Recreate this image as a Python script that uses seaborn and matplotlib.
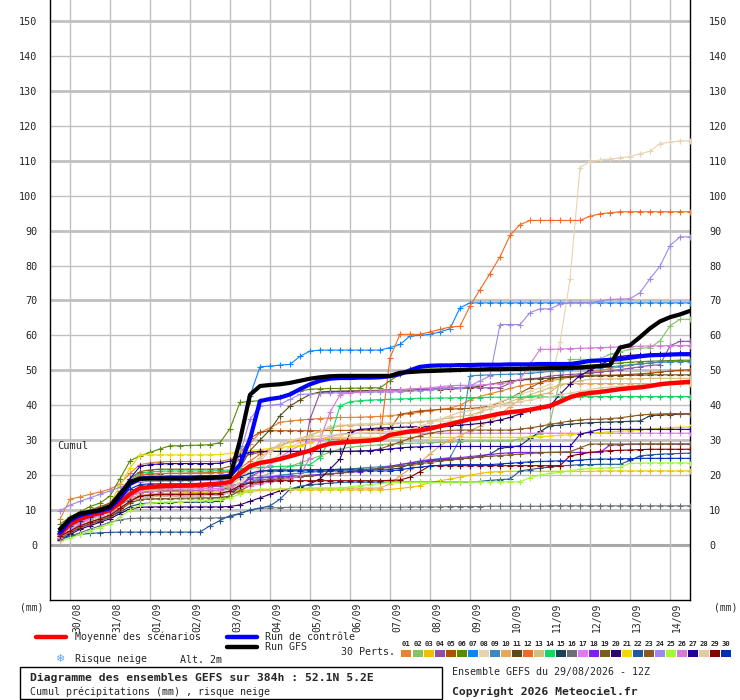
import matplotlib
matplotlib.use("Agg")
import matplotlib.pyplot as plt
from matplotlib.patches import Rectangle
from matplotlib.lines import Line2D
from matplotlib.transforms import ScaledTranslation
import seaborn as sns
import pandas as pd

sns.set_style("white")
plt.rcParams['font.family'] = ['DejaVu Sans Mono', 'DejaVu Sans']

# ---------------- data (cumulative precipitation, mm, every 6 h from +6h to +384h)
hours = list(range(6, 385, 6))
date_labels = ['30/08', '31/08', '01/09', '02/09', '03/09', '04/09', '05/09', '06/09',
               '07/09', '08/09', '09/09', '10/09', '11/09', '12/09', '13/09', '14/09']
date_hours = [12, 36, 60, 84, 108, 132, 156, 180, 204, 228, 252, 276, 300, 324, 348, 372]
y_ticks = [0, 10, 20, 30, 40, 50, 60, 70, 80, 90, 100, 110, 120, 130, 140, 150]

member_colors = ['#E8822E', '#86C26C', '#F0C000', '#8E4FA8', '#B04E0C', '#5A8A00', '#0A84FF',
                 '#E8D4B0', '#3A8ABE', '#E8A858', '#5E4A18', '#F86820', '#D4C07C', '#10D860',
                 '#204058', '#687078', '#E078F8', '#8020F0', '#7A5A28', '#300070', '#F0D800',
                 '#205898', '#8A5820', '#A088E8', '#A0F838', '#D878D8', '#2000A0', '#E0CCA0',
                 '#880000', '#0030B8']

m01 = [7.4, 13.1, 13.8, 14.5, 15.2, 16.0, 17.5, 20.5, 23.0, 23.5, 23.8, 23.9, 23.9, 23.9, 23.9, 23.9,
       23.9, 24.5, 26.0, 29.0, 32.2, 33.5, 35.1, 35.5, 35.8, 36.0, 36.2, 36.4, 36.5, 36.5, 36.6, 36.7,
       36.8, 37.0, 37.3, 37.6, 38.0, 38.4, 38.8, 39.2, 40.0, 41.5, 42.5, 43.3, 44.0, 44.8, 45.6, 46.0,
       46.5, 47.0, 47.5, 48.0, 48.8, 49.5, 50.0, 50.5, 51.0, 51.4, 51.8, 52.1, 52.3, 52.5, 52.6, 52.6]
m02 = [2.0, 3.5, 5.0, 6.0, 7.0, 8.0, 10.0, 12.0, 13.0, 13.1, 13.1, 13.1, 13.2, 13.2, 13.2, 13.3,
       13.4, 14.0, 16.0, 18.0, 19.5, 20.5, 21.5, 22.5, 23.5, 24.5, 25.5, 26.5, 27.5, 28.0, 28.3, 28.5,
       28.7, 28.9, 29.0, 29.1, 29.2, 29.3, 29.4, 29.5, 29.6, 29.7, 29.8, 29.8, 29.8, 29.8, 30.4, 31.0,
       31.7, 35.0, 47.4, 53.1, 53.1, 53.1, 53.3, 54.6, 55.3, 56.0, 56.3, 56.5, 58.4, 62.7, 64.6, 64.6]
m03 = [2.5, 4.0, 5.5, 6.5, 7.5, 8.5, 10.5, 12.5, 14.0, 14.5, 14.7, 14.8, 14.9, 15.0, 15.0, 15.1,
       15.2, 15.4, 15.6, 15.7, 15.8, 15.8, 15.8, 15.8, 15.8, 15.8, 15.8, 15.8, 15.8, 15.8, 15.8, 15.8,
       15.8, 15.9, 16.2, 16.5, 17.0, 17.9, 18.4, 18.9, 19.4, 20.0, 20.5, 20.9, 21.0, 21.1, 21.1, 21.1,
       21.1, 21.1, 21.1, 21.1, 21.1, 21.1, 21.2, 21.2, 21.2, 21.2, 21.2, 21.2, 21.2, 21.2, 21.2, 21.2]
m04 = [3.0, 5.0, 7.0, 8.0, 9.0, 10.0, 12.5, 15.0, 16.0, 16.2, 16.3, 16.4, 16.5, 16.5, 16.6, 16.7,
       16.8, 17.0, 17.5, 18.0, 18.5, 19.0, 19.3, 19.6, 19.8, 36.0, 43.6, 43.8, 44.0, 44.0, 44.1, 44.2,
       44.3, 44.4, 44.5, 44.6, 44.7, 44.8, 44.9, 45.0, 45.0, 45.0, 45.0, 45.0, 45.0, 46.3, 47.4, 47.6,
       47.8, 48.4, 48.6, 48.8, 49.0, 49.2, 49.5, 49.8, 50.2, 50.6, 51.0, 51.4, 51.6, 57.0, 58.3, 58.3]
m05 = [5.0, 7.0, 9.0, 10.0, 11.0, 12.0, 15.0, 18.0, 20.0, 20.3, 20.4, 20.5, 20.5, 20.6, 20.6, 20.7,
       20.8, 21.0, 26.0, 30.5, 32.3, 32.7, 32.7, 32.7, 32.7, 32.7, 32.7, 32.8, 32.8, 32.8, 32.9, 32.9,
       33.0, 33.2, 37.4, 37.9, 38.4, 38.6, 38.8, 38.9, 39.0, 39.1, 39.3, 39.8, 40.8, 42.0, 43.5, 45.0,
       46.5, 47.5, 48.0, 48.3, 48.5, 48.6, 48.6, 48.6, 48.7, 48.8, 49.0, 49.2, 49.5, 49.8, 50.0, 50.2]
m06 = [6.0, 8.0, 9.5, 11.0, 12.0, 14.0, 19.0, 24.1, 25.5, 26.5, 27.5, 28.4, 28.4, 28.5, 28.6, 28.7,
       29.3, 33.3, 40.8, 41.1, 41.3, 41.8, 42.5, 43.2, 44.0, 44.6, 44.7, 44.8, 44.8, 44.9, 44.9, 45.0,
       45.0, 47.0, 48.9, 50.3, 50.3, 50.4, 50.4, 50.5, 50.5, 50.6, 50.6, 50.7, 50.7, 50.8, 50.8, 50.9,
       51.0, 51.1, 51.2, 51.3, 51.4, 51.5, 51.7, 51.9, 52.1, 52.3, 52.5, 52.6, 52.7, 52.8, 52.9, 52.9]
m07 = [4.0, 6.5, 8.5, 9.5, 10.5, 12.0, 15.0, 17.5, 18.5, 18.8, 18.8, 18.8, 18.9, 18.9, 18.9, 19.0,
       19.0, 19.5, 28.4, 42.7, 51.0, 51.2, 51.5, 51.7, 54.0, 55.5, 55.8, 55.8, 55.8, 55.8, 55.8, 55.8,
       55.8, 56.5, 57.4, 59.8, 60.0, 60.3, 61.0, 61.9, 67.9, 69.3, 69.3, 69.3, 69.3, 69.3, 69.3, 69.3,
       69.3, 69.3, 69.3, 69.3, 69.3, 69.3, 69.3, 69.3, 69.3, 69.3, 69.3, 69.3, 69.3, 69.3, 69.3, 69.3]
m08 = [2.0, 4.0, 6.0, 8.0, 9.0, 10.0, 12.0, 14.0, 15.0, 15.3, 15.5, 15.5, 15.5, 15.5, 15.6, 15.6,
       15.7, 16.0, 18.0, 20.0, 22.0, 24.0, 26.0, 28.0, 29.4, 31.0, 32.5, 34.0, 34.3, 34.5, 34.7, 34.8,
       34.9, 35.0, 35.0, 35.1, 35.2, 35.3, 35.4, 35.5, 35.7, 36.0, 38.0, 40.0, 41.0, 42.0, 43.1, 44.0,
       45.0, 46.0, 58.0, 76.0, 108.0, 109.8, 110.2, 110.5, 110.8, 111.2, 112.0, 112.7, 114.9, 115.3, 115.7, 115.7]
m09 = [3.0, 5.0, 6.5, 7.5, 8.5, 9.5, 11.5, 13.0, 14.0, 14.2, 14.3, 14.3, 14.4, 14.4, 14.5, 14.5,
       14.6, 15.0, 16.5, 18.0, 19.0, 19.5, 20.0, 20.3, 20.6, 20.8, 21.0, 21.2, 21.5, 21.8, 22.0, 22.2,
       22.4, 22.6, 23.0, 23.5, 24.0, 24.4, 24.7, 25.0, 30.3, 48.4, 48.6, 48.7, 48.8, 48.9, 49.0, 49.2,
       49.4, 49.7, 49.9, 50.1, 50.3, 50.5, 50.8, 51.0, 51.3, 51.6, 51.9, 52.1, 52.3, 52.4, 52.5, 52.5]
m10 = [3.5, 5.5, 7.0, 8.0, 9.0, 10.0, 12.0, 13.5, 14.3, 14.5, 14.6, 14.6, 14.6, 14.6, 14.6, 14.7,
       14.7, 14.8, 15.0, 15.3, 15.6, 15.8, 16.0, 16.1, 16.2, 16.3, 16.3, 16.3, 16.3, 16.3, 16.3, 16.3,
       16.3, 17.5, 19.8, 21.8, 23.7, 26.0, 28.4, 30.0, 31.2, 32.7, 34.0, 35.5, 37.5, 39.5, 41.7, 42.5,
       43.0, 43.6, 46.0, 46.2, 46.2, 46.2, 46.2, 46.2, 46.2, 46.2, 46.2, 46.2, 46.2, 46.2, 46.2, 46.2]
m11 = [3.0, 5.0, 7.0, 8.0, 9.0, 10.0, 12.0, 14.0, 15.0, 15.3, 15.4, 15.5, 15.5, 15.5, 15.6, 15.6,
       15.7, 16.5, 22.0, 27.0, 30.0, 33.0, 37.0, 39.8, 41.5, 43.1, 43.8, 44.0, 44.0, 44.1, 44.1, 44.2,
       44.2, 44.3, 44.3, 44.4, 44.4, 44.5, 44.5, 44.6, 44.8, 45.0, 45.5, 46.0, 46.5, 47.0, 47.2, 47.4,
       47.6, 47.8, 48.0, 48.1, 48.2, 48.3, 48.4, 48.5, 48.5, 48.6, 48.6, 48.7, 48.7, 48.7, 48.7, 48.7]
m12 = [3.0, 5.0, 7.0, 8.5, 10.0, 12.0, 15.0, 18.0, 20.0, 20.5, 20.5, 20.5, 20.5, 20.5, 20.5, 20.6,
       20.7, 21.0, 22.0, 24.0, 26.0, 27.5, 28.5, 29.5, 30.0, 30.3, 30.3, 30.3, 30.3, 30.3, 30.3, 30.3,
       30.3, 53.6, 60.3, 60.3, 60.3, 61.0, 61.7, 62.4, 62.6, 68.4, 73.1, 77.7, 82.5, 88.6, 91.7, 92.9,
       92.9, 92.9, 92.9, 92.9, 92.9, 94.1, 94.8, 95.1, 95.4, 95.4, 95.4, 95.4, 95.4, 95.4, 95.4, 95.4]
m13 = [2.5, 4.5, 6.0, 7.0, 8.0, 9.0, 11.5, 14.0, 15.5, 15.8, 16.0, 16.0, 16.0, 16.1, 16.1, 16.2,
       16.3, 17.0, 19.0, 22.0, 25.0, 27.0, 28.5, 29.4, 30.5, 31.5, 32.5, 33.5, 34.0, 34.2, 34.3, 34.4,
       34.5, 34.6, 34.8, 35.0, 35.3, 35.6, 36.0, 36.4, 36.8, 37.2, 38.0, 39.0, 40.0, 41.0, 42.0, 43.0,
       44.0, 45.0, 45.8, 46.4, 47.0, 47.4, 47.5, 47.5, 47.6, 47.6, 47.6, 47.7, 47.7, 47.7, 47.7, 47.7]
m14 = [4.0, 6.0, 8.0, 9.0, 10.0, 11.0, 14.5, 18.5, 20.5, 21.0, 21.1, 21.2, 21.2, 21.2, 21.2, 21.2,
       21.3, 21.5, 21.8, 22.0, 22.2, 22.4, 22.5, 22.6, 22.8, 23.0, 25.0, 30.3, 39.8, 41.0, 41.3, 41.5,
       41.6, 41.7, 41.8, 41.9, 42.0, 42.0, 42.1, 42.1, 42.2, 42.2, 42.2, 42.3, 42.3, 42.3, 42.3, 42.4,
       42.4, 42.4, 42.4, 42.4, 42.5, 42.5, 42.5, 42.5, 42.5, 42.5, 42.5, 42.5, 42.5, 42.5, 42.5, 42.5]
m15 = [2.0, 3.5, 5.0, 6.0, 7.0, 8.0, 9.5, 11.0, 11.8, 12.0, 12.1, 12.1, 12.2, 12.2, 12.3, 12.4,
       12.5, 14.0, 17.0, 19.5, 21.0, 21.5, 21.5, 21.5, 21.5, 21.6, 21.6, 21.6, 21.7, 21.7, 21.7, 21.7,
       21.7, 21.7, 22.0, 23.1, 23.6, 24.0, 24.4, 24.6, 24.7, 24.8, 25.4, 26.0, 27.7, 28.0, 28.4, 30.5,
       32.5, 34.1, 34.3, 34.6, 34.8, 35.0, 35.1, 35.2, 35.3, 35.4, 35.5, 37.0, 37.2, 37.3, 37.4, 37.5]
m16 = [1.5, 2.5, 3.5, 4.5, 5.5, 6.5, 7.2, 7.6, 7.7, 7.7, 7.7, 7.7, 7.7, 7.7, 7.7, 7.7,
       7.8, 8.0, 9.0, 10.0, 10.5, 10.6, 10.7, 10.8, 10.8, 10.8, 10.8, 10.8, 10.8, 10.8, 10.8, 10.8,
       10.8, 10.8, 10.8, 10.9, 10.9, 10.9, 10.9, 11.0, 11.0, 11.0, 11.0, 11.1, 11.1, 11.1, 11.1, 11.1,
       11.1, 11.2, 11.2, 11.2, 11.2, 11.2, 11.2, 11.2, 11.2, 11.2, 11.2, 11.2, 11.2, 11.2, 11.2, 11.2]
m17 = [3.0, 5.0, 6.5, 7.5, 8.5, 9.5, 12.0, 14.5, 15.8, 16.0, 16.0, 16.0, 16.0, 16.0, 16.1, 16.1,
       16.2, 16.5, 17.5, 19.0, 21.0, 23.0, 25.0, 27.0, 28.5, 29.5, 30.3, 31.0, 31.7, 32.0, 32.0, 32.0,
       32.0, 32.0, 32.0, 32.0, 32.0, 32.0, 32.0, 32.0, 32.0, 32.0, 32.0, 32.0, 32.0, 32.0, 32.0, 32.0,
       32.0, 32.0, 32.0, 32.0, 32.0, 32.0, 32.0, 32.0, 32.0, 32.0, 32.0, 32.0, 32.0, 32.0, 32.0, 32.0]
m18 = [2.5, 4.0, 5.5, 6.5, 7.5, 8.5, 10.5, 12.5, 13.5, 13.8, 14.0, 14.0, 14.0, 14.1, 14.1, 14.2,
       14.3, 15.0, 17.0, 19.0, 19.4, 19.5, 19.6, 19.7, 19.8, 20.0, 20.2, 20.4, 20.6, 20.8, 21.0, 21.5,
       22.0, 22.5, 23.0, 23.5, 24.0, 24.4, 24.6, 24.8, 25.0, 25.3, 25.6, 25.9, 26.2, 26.4, 26.5, 26.5,
       26.5, 26.5, 26.5, 26.5, 26.5, 26.5, 26.5, 28.6, 28.7, 28.8, 28.9, 28.9, 28.9, 28.9, 28.9, 28.9]
m19 = [2.0, 3.5, 5.0, 6.0, 7.0, 8.0, 10.0, 12.0, 13.0, 13.2, 13.3, 13.3, 13.4, 13.4, 13.5, 13.5,
       13.6, 14.0, 15.5, 17.0, 18.0, 18.5, 19.0, 19.3, 19.5, 19.7, 20.0, 20.3, 20.6, 21.0, 21.3, 21.6,
       22.0, 22.3, 22.6, 23.0, 23.3, 23.6, 24.0, 24.3, 24.6, 25.0, 25.2, 25.4, 25.6, 25.8, 26.0, 26.2,
       26.4, 26.5, 26.6, 26.7, 27.8, 28.9, 28.9, 28.9, 28.9, 28.9, 28.9, 28.9, 28.9, 28.9, 28.9, 28.9]
m20 = [1.5, 3.0, 4.5, 5.5, 6.5, 7.5, 9.0, 10.3, 10.8, 10.9, 10.9, 10.9, 10.9, 10.9, 10.9, 10.9,
       10.9, 11.0, 11.5, 12.5, 13.5, 14.5, 15.5, 16.0, 16.5, 17.5, 18.9, 21.7, 24.6, 32.2, 33.1, 33.3,
       33.5, 33.6, 33.7, 33.8, 33.9, 34.0, 34.1, 34.2, 34.3, 34.5, 34.8, 35.2, 35.8, 36.5, 37.5, 38.5,
       39.4, 39.8, 43.1, 46.0, 48.5, 50.0, 51.5, 53.0, 54.0, 54.3, 54.5, 54.6, 54.7, 54.8, 54.9, 55.0]
m21 = [3.5, 6.0, 8.0, 9.0, 10.0, 12.0, 17.0, 22.0, 25.8, 25.8, 25.8, 25.8, 25.8, 25.8, 25.8, 25.8,
       25.9, 26.2, 26.7, 27.0, 27.3, 27.6, 27.9, 28.2, 28.4, 29.2, 30.0, 30.8, 30.8, 30.8, 30.8, 30.8,
       30.8, 30.8, 30.8, 30.8, 30.8, 30.8, 30.8, 30.8, 30.8, 30.8, 30.8, 30.8, 30.8, 30.8, 30.8, 30.9,
       31.0, 31.2, 31.4, 31.6, 31.8, 32.0, 32.2, 32.4, 32.6, 32.7, 33.0, 33.2, 33.4, 33.6, 33.7, 33.8]
m22 = [1.7, 2.5, 3.0, 3.3, 3.5, 3.6, 3.7, 3.7, 3.7, 3.7, 3.7, 3.7, 3.7, 3.7, 3.7, 5.5,
       7.0, 8.4, 9.0, 10.0, 10.6, 11.2, 13.1, 16.0, 16.8, 17.2, 17.5, 17.7, 17.9, 18.0, 18.0, 18.0,
       18.0, 18.0, 18.0, 18.0, 18.0, 18.0, 18.0, 18.0, 18.0, 18.0, 18.2, 18.5, 18.7, 18.9, 21.2, 21.6,
       22.0, 22.3, 22.6, 22.8, 23.0, 23.0, 23.1, 23.1, 23.1, 24.2, 25.5, 25.8, 26.0, 26.1, 26.2, 26.3]
m23 = [4.0, 6.5, 8.5, 9.5, 10.5, 12.0, 15.5, 19.0, 21.0, 21.5, 21.7, 21.7, 21.7, 21.7, 21.7, 21.7,
       21.8, 22.5, 24.5, 26.0, 26.5, 26.8, 26.8, 26.8, 26.8, 26.8, 26.8, 26.8, 26.8, 26.8, 26.9, 27.0,
       27.5, 28.5, 29.5, 30.5, 31.3, 32.0, 32.5, 32.8, 32.9, 32.9, 32.9, 32.9, 32.9, 32.9, 33.2, 33.5,
       34.0, 34.5, 35.0, 35.5, 35.8, 36.0, 36.0, 36.2, 36.4, 36.8, 37.2, 37.4, 37.5, 37.6, 37.6, 37.6]
m24 = [9.8, 11.4, 12.5, 13.5, 14.5, 15.5, 16.5, 17.5, 18.0, 18.2, 18.3, 18.3, 18.4, 18.4, 18.5, 18.5,
       18.6, 19.0, 26.0, 36.0, 39.8, 40.0, 40.3, 41.7, 43.1, 43.2, 43.4, 43.5, 43.6, 43.6, 43.7, 43.7,
       43.8, 43.8, 43.9, 44.0, 44.2, 44.4, 44.6, 44.8, 45.0, 45.5, 47.0, 48.4, 63.1, 63.1, 63.1, 66.5,
       67.6, 67.6, 68.9, 69.3, 69.3, 69.4, 69.8, 70.3, 70.4, 70.5, 72.2, 76.2, 79.8, 85.7, 88.2, 88.2]
m25 = [1.0, 2.0, 3.0, 4.0, 5.0, 6.0, 8.0, 10.0, 11.5, 12.0, 12.2, 12.3, 12.4, 12.5, 12.6, 12.7,
       13.0, 13.5, 14.5, 15.5, 16.0, 16.0, 16.0, 16.0, 16.0, 16.0, 16.0, 16.0, 16.3, 16.6, 17.0, 17.3,
       17.6, 17.9, 17.9, 17.9, 17.9, 17.9, 17.9, 18.0, 18.0, 18.1, 18.1, 18.1, 18.1, 18.1, 18.1, 19.3,
       20.0, 20.5, 20.8, 21.2, 21.7, 21.9, 22.0, 22.1, 22.2, 23.4, 23.4, 23.5, 23.5, 23.5, 23.5, 23.5]
m26 = [2.0, 4.0, 6.0, 7.5, 8.5, 9.5, 12.0, 14.0, 15.0, 15.3, 15.3, 15.4, 15.4, 15.5, 15.5, 15.5,
       15.6, 16.0, 16.5, 17.0, 17.5, 18.0, 18.5, 19.0, 20.0, 25.0, 30.0, 38.0, 43.0, 43.6, 43.8, 44.0,
       44.1, 44.2, 44.4, 44.6, 44.8, 45.0, 45.3, 45.6, 45.7, 45.7, 45.8, 46.0, 46.2, 46.5, 47.4, 51.7,
       56.0, 56.0, 56.1, 56.2, 56.3, 56.4, 56.5, 56.6, 56.7, 56.8, 56.9, 57.0, 57.0, 57.1, 57.1, 57.1]
m27 = [3.5, 6.0, 8.0, 9.0, 10.0, 11.5, 15.0, 19.0, 22.5, 23.0, 23.2, 23.3, 23.3, 23.3, 23.3, 23.3,
       23.4, 24.0, 25.5, 26.5, 26.8, 26.8, 26.8, 26.8, 26.8, 26.8, 26.8, 26.8, 26.8, 26.8, 26.9, 27.0,
       27.2, 27.5, 27.8, 28.0, 28.1, 28.2, 28.2, 28.2, 28.2, 28.2, 28.2, 28.2, 28.2, 28.2, 28.2, 28.2,
       28.2, 28.2, 28.2, 28.2, 31.7, 32.4, 33.1, 33.1, 33.1, 33.1, 33.1, 33.1, 33.1, 33.1, 33.1, 33.1]
m28 = [2.5, 4.0, 5.5, 6.5, 7.5, 8.5, 10.5, 12.5, 13.5, 13.8, 14.0, 14.0, 14.0, 14.1, 14.1, 14.2,
       14.3, 15.0, 18.0, 21.0, 24.0, 27.0, 29.0, 30.0, 30.5, 31.0, 31.2, 31.4, 31.6, 31.8, 32.0, 32.2,
       32.4, 32.6, 32.8, 33.0, 34.0, 35.0, 36.0, 37.0, 38.0, 38.5, 39.0, 39.5, 40.0, 40.5, 41.0, 41.5,
       42.0, 42.5, 43.0, 43.5, 44.0, 44.5, 45.0, 45.2, 45.4, 45.6, 45.8, 46.0, 46.1, 46.2, 46.3, 46.4]
m29 = [2.5, 4.0, 5.5, 6.5, 7.5, 8.5, 10.5, 12.5, 14.0, 14.3, 14.5, 14.5, 14.5, 14.5, 14.6, 14.6,
       14.7, 15.5, 17.0, 17.8, 18.1, 18.3, 18.4, 18.4, 18.4, 18.4, 18.4, 18.4, 18.4, 18.4, 18.4, 18.4,
       18.4, 18.5, 18.6, 19.4, 21.0, 22.7, 22.7, 22.7, 22.7, 22.7, 22.7, 22.7, 22.7, 22.7, 22.7, 22.7,
       22.7, 22.7, 22.7, 25.5, 26.0, 26.5, 26.8, 27.0, 27.1, 27.2, 27.3, 27.4, 27.4, 27.4, 27.4, 27.4]
m30 = [3.0, 5.5, 7.0, 8.0, 9.0, 10.0, 13.0, 16.0, 17.3, 17.5, 17.5, 17.5, 17.5, 17.5, 17.6, 17.6,
       17.7, 18.2, 19.5, 20.5, 21.2, 21.2, 21.2, 21.2, 21.2, 21.2, 21.2, 21.2, 21.2, 21.2, 21.2, 21.2,
       21.2, 21.2, 21.5, 22.0, 22.3, 22.6, 22.8, 23.0, 23.0, 23.0, 23.0, 23.0, 23.2, 23.4, 23.6, 23.8,
       23.9, 24.0, 24.1, 24.1, 24.3, 24.5, 24.6, 24.6, 24.7, 24.7, 24.8, 24.8, 24.8, 24.8, 24.8, 24.8]

mean = [3.1, 6.0, 7.5, 8.5, 9.2, 10.0, 12.0, 14.6, 16.3, 16.6, 16.8, 16.9, 17.0, 17.1, 17.2, 17.4,
        17.6, 18.0, 20.5, 22.6, 23.5, 24.0, 24.6, 25.4, 26.2, 27.0, 28.2, 29.0, 29.3, 29.5, 29.7, 29.9,
        30.2, 31.5, 32.0, 32.5, 32.8, 33.3, 34.0, 34.6, 35.3, 36.0, 36.4, 37.0, 37.6, 38.0, 38.3, 38.7,
        39.3, 39.8, 41.0, 42.3, 43.1, 43.5, 43.8, 44.2, 44.6, 44.9, 45.1, 45.5, 46.0, 46.3, 46.5, 46.7]
control = [3.5, 7.0, 8.5, 9.2, 9.8, 10.5, 13.5, 17.5, 19.0, 19.2, 19.2, 19.3, 19.3, 19.3, 19.4, 19.4,
           19.5, 19.8, 23.0, 30.3, 41.2, 41.8, 42.2, 43.1, 44.6, 46.0, 47.0, 47.6, 47.8, 47.8, 47.9, 47.9,
           48.0, 48.3, 48.9, 50.0, 51.0, 51.3, 51.4, 51.4, 51.5, 51.5, 51.6, 51.6, 51.6, 51.7, 51.7, 51.7,
           51.8, 51.8, 51.8, 51.8, 52.2, 52.7, 52.8, 53.0, 53.2, 53.6, 54.0, 54.3, 54.4, 54.5, 54.6, 54.6]
gfs = [4.5, 7.5, 9.0, 9.5, 10.0, 11.0, 14.5, 18.0, 19.0, 19.0, 19.0, 19.0, 19.0, 19.0, 19.1, 19.2,
       19.3, 19.5, 30.0, 43.0, 45.5, 45.8, 46.0, 46.4, 47.0, 47.6, 48.0, 48.3, 48.4, 48.4, 48.4, 48.4,
       48.4, 48.4, 49.3, 49.5, 49.7, 49.8, 49.9, 50.0, 50.1, 50.2, 50.2, 50.3, 50.3, 50.4, 50.4, 50.5,
       50.5, 50.6, 50.6, 50.7, 50.8, 51.0, 51.2, 51.5, 56.5, 57.2, 59.5, 62.0, 64.0, 65.2, 66.0, 67.0]

members = [m01, m02, m03, m04, m05, m06, m07, m08, m09, m10, m11, m12, m13, m14, m15,
           m16, m17, m18, m19, m20, m21, m22, m23, m24, m25, m26, m27, m28, m29, m30]
member_names = ['%02d' % (k + 1) for k in range(30)]

# ---------------- figure
W, H = 740, 700
fig = plt.figure(figsize=(W / 100, H / 100), dpi=100)
fig.patch.set_facecolor('white')
ax = fig.add_axes([50 / W, 100 / H, 640 / W, 600 / H])
ax.set_facecolor('white')

YTOP, YBOT = 156.0, -15.75
ax.set_xlim(0, 384)
ax.set_ylim(YBOT, YTOP)

# grid
for v in y_ticks:
    if v == 0:
        ax.axhline(0, color='#A8A8A8', lw=2.2, zorder=1)
    elif v % 20 == 10:
        ax.axhline(v, color='#C0C0C0', lw=2.0, zorder=1)
    else:
        ax.axhline(v, color='#C0C0C0', lw=1.0, zorder=1)
for h in date_hours:
    ax.axvline(h, color='#C0C0C0', lw=1.0, zorder=1)

# members
rows = []
for name, vals in zip(member_names, members):
    for h, v in zip(hours, vals):
        rows.append((name, h, v))
df = pd.DataFrame(rows, columns=['membre', 'heure', 'cumul'])
pal = dict(zip(member_names, member_colors))
n_before = len(ax.lines)
sns.lineplot(data=df, x='heure', y='cumul', hue='membre', palette=pal, estimator=None,
             sort=False, legend=False, ax=ax, linewidth=0.8, marker='+', markersize=4,
             markeredgewidth=0.8, zorder=3)
# '+' markers take the colour of their own line
for ln in ax.lines[n_before:]:
    ln.set_markeredgecolor(ln.get_color())
    ln.set_markerfacecolor(ln.get_color())

main = pd.DataFrame({'heure': hours, 'moyenne': mean, 'controle': control, 'gfs': gfs})
sns.lineplot(data=main, x='heure', y='moyenne', color='#FF0000', linewidth=3.2, ax=ax, zorder=5)
sns.lineplot(data=main, x='heure', y='controle', color='#0000FF', linewidth=3.0, ax=ax, zorder=6)
sns.lineplot(data=main, x='heure', y='gfs', color='#000000', linewidth=3.0, ax=ax, zorder=7)

# axes cosmetics
ax.set_xlabel('')
ax.set_ylabel('')
for s in ['left', 'right', 'bottom']:
    ax.spines[s].set_color('black')
    ax.spines[s].set_linewidth(1.0)
ax.spines['top'].set_visible(False)

ax.set_yticks(y_ticks)
ax.set_yticklabels([str(v) for v in y_ticks])
ax.tick_params(axis='y', which='both', length=0, left=False, right=False,
               labelleft=True, labelright=True, labelsize=7.3, pad=9)
for t in ax.yaxis.get_major_ticks():
    t.label2.set_transform(t.label2.get_transform() + ScaledTranslation(6.5 / 100, 0, fig.dpi_scale_trans))

ax.set_xticks(date_hours)
ax.set_xticklabels(date_labels, rotation=90, fontsize=7)
ax.tick_params(axis='x', length=0, pad=2)
for lab in ax.get_xticklabels():
    lab.set_transform(lab.get_transform() + ScaledTranslation(7 / 100, 0, fig.dpi_scale_trans))

ax.text(4.5, 28.2, 'Cumul', fontsize=7.5, va='center', ha='left', zorder=8)


# ---------------- outside texts (pixel helper)
def fx(x):
    return x / W


def fy(y):
    return 1 - y / H


fig.text(fx(20), fy(607), '(mm)', fontsize=7, va='center', ha='left')
fig.text(fx(714), fy(607), '(mm)', fontsize=7, va='center', ha='left')

fig.add_artist(Line2D([fx(36), fx(66)], [fy(637), fy(637)], color='#FF0000', lw=3.2))
fig.text(fx(75), fy(637), 'Moyenne des scénarios', fontsize=7.2, va='center', ha='left')
fig.add_artist(Line2D([fx(227), fx(257)], [fy(637), fy(637)], color='#0000FF', lw=3.2))
fig.text(fx(265), fy(637), 'Run de contrôle', fontsize=7.2, va='center', ha='left')
fig.add_artist(Line2D([fx(227), fx(257)], [fy(647), fy(647)], color='#000000', lw=3.2))
fig.text(fx(265), fy(647), 'Run GFS', fontsize=7.2, va='center', ha='left')

fig.text(fx(60), fy(659), '\u2744', fontsize=8, va='center', ha='center', color='#5AA8F0',
         family=['DejaVu Sans'])
fig.text(fx(75), fy(659), 'Risque neige', fontsize=7.2, va='center', ha='left')
fig.text(fx(180), fy(660), 'Alt. 2m', fontsize=7.2, va='center', ha='left')
fig.text(fx(341), fy(652), '30 Perts.', fontsize=7.2, va='center', ha='left')

for k, (name, col) in enumerate(zip(member_names, member_colors)):
    x0 = 401.5 + 11.03 * k
    fig.add_artist(Rectangle((fx(x0), fy(656.5)), 10 / W, 7 / H, transform=fig.transFigure,
                             facecolor=col, edgecolor='none'))
    fig.text(fx(x0 + 5), fy(644), name, fontsize=5.2, fontweight='bold', va='center', ha='center')

fig.add_artist(Rectangle((fx(20), fy(699)), 422 / W, 32 / H, transform=fig.transFigure,
                         facecolor='none', edgecolor='black', lw=1.0))
fig.text(fx(30), fy(678), 'Diagramme des ensembles GEFS sur 384h : 52.1N 5.2E', fontsize=8.2,
         fontweight='bold', va='center', ha='left')
fig.text(fx(30), fy(692), 'Cumul précipitations (mm) , risque neige', fontsize=7.2,
         va='center', ha='left')
fig.text(fx(452), fy(672), 'Ensemble GEFS du 29/08/2026 - 12Z', fontsize=7.2, va='center', ha='left')
fig.text(fx(452), fy(692), 'Copyright 2026 Meteociel.fr', fontsize=8.2, fontweight='bold',
         va='center', ha='left')

fig.savefig('out.png', dpi=100, facecolor='white')
